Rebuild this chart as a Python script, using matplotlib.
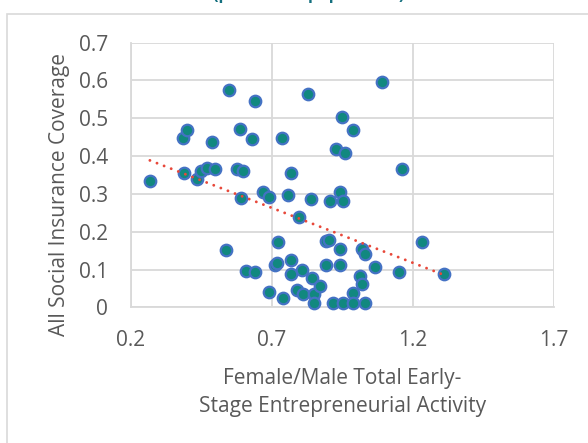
import numpy as np
import matplotlib
matplotlib.use("Agg")
import matplotlib.pyplot as plt
from matplotlib.patches import Rectangle

plt.rcParams['font.family'] = ['Open Sans', 'DejaVu Sans']

tea_ratio = [0.268, 0.387, 0.399, 0.389, 0.436, 0.448, 0.472, 0.489, 0.499, 0.538,
             0.549, 0.576, 0.589, 0.590, 0.599, 0.609, 0.630, 0.640, 0.641, 0.668,
             0.689, 0.690, 0.712, 0.720, 0.723, 0.735, 0.739, 0.759, 0.767, 0.768,
             0.768, 0.789, 0.798, 0.806, 0.812, 0.830, 0.838, 0.842, 0.848, 0.848,
             0.871, 0.893, 0.893, 0.902, 0.907, 0.918, 0.928, 0.940, 0.940, 0.940,
             0.949, 0.952, 0.952, 0.960, 0.989, 0.989, 0.989, 1.011, 1.019, 1.019,
             1.031, 1.031, 1.067, 1.090, 1.150, 1.160, 1.231, 1.311]
coverage = [0.335, 0.449, 0.469, 0.354, 0.339, 0.361, 0.368, 0.438, 0.366, 0.151,
            0.575, 0.366, 0.472, 0.288, 0.361, 0.097, 0.444, 0.546, 0.094, 0.306,
            0.041, 0.293, 0.111, 0.116, 0.173, 0.449, 0.024, 0.296, 0.089, 0.124,
            0.355, 0.046, 0.238, 0.098, 0.035, 0.563, 0.287, 0.078, 0.035, 0.011,
            0.056, 0.175, 0.113, 0.179, 0.282, 0.011, 0.418, 0.306, 0.155, 0.113,
            0.504, 0.282, 0.011, 0.407, 0.469, 0.038, 0.011, 0.082, 0.153, 0.061,
            0.142, 0.012, 0.107, 0.595, 0.094, 0.366, 0.173, 0.089]

x_ticks = [0.2, 0.7, 1.2, 1.7]
y_ticks = [0, 0.1, 0.2, 0.3, 0.4, 0.5, 0.6, 0.7]
x_tick_labels = ['0.2', '0.7', '1.2', '1.7']
y_tick_labels = ['0', '0.1', '0.2', '0.3', '0.4', '0.5', '0.6', '0.7']
title_text = "(percent of population)"
x_label_lines = ["Female/Male Total Early-", "Stage Entrepreneurial Activity"]
y_label = "All Social Insurance Coverage"

W, H = 588, 443
fig = plt.figure(figsize=(W / 100, H / 100), dpi=100)

# chart border
fig.patches.append(Rectangle((7 / W, -0.05), 1.1, 1 - 14 / H + 0.05, transform=fig.transFigure,
                             fill=False, edgecolor='#D9D9D9', linewidth=1.2))

ax = fig.add_axes([130.7 / W, 1 - 307.3 / H, (554 - 130.7) / W, (307.3 - 42.7) / H])
grid_c = '#D9D9D9'
txt_c = '#595959'
ax.set_xlim(0.2, 1.7)
ax.set_ylim(0, 0.7)
ax.set_xticks(x_ticks)
ax.set_xticklabels(x_tick_labels)
ax.set_yticks(y_ticks)
ax.set_yticklabels(y_tick_labels)
ax.grid(True, color=grid_c, linewidth=1.3, zorder=0)
ax.set_axisbelow(True)
for s in ['top', 'right']:
    ax.spines[s].set_visible(False)
for s in ['left', 'bottom']:
    ax.spines[s].set_color(grid_c)
    ax.spines[s].set_linewidth(1.3)
ax.tick_params(length=0, labelsize=15, labelcolor=txt_c)
ax.tick_params(axis='x', pad=16)
ax.tick_params(axis='y', pad=16.5)

ax.plot(tea_ratio, coverage, linestyle='none', marker='o', markersize=8.3,
        markerfacecolor='#11887F', markeredgecolor='#4472C4', markeredgewidth=1.6,
        zorder=3, clip_on=False)

# linear trendline
xs = np.array(tea_ratio)
ys = np.array(coverage)
m, b = np.polyfit(xs, ys, 1)
xl = np.array([xs.min(), xs.max()])
ax.plot(xl, m * xl + b, color='#E8483A', linewidth=2.1, linestyle=(0, (0.01, 2.6)),
        dash_capstyle='round', zorder=4)

# axis titles
fig.text(342.4 / W, 1 - 384 / H, x_label_lines[0], ha='center', va='baseline',
         fontsize=15, color=txt_c)
fig.text(342.4 / W, 1 - 412 / H, x_label_lines[1], ha='center', va='baseline',
         fontsize=15, color=txt_c)
fig.text(60 / W, 1 - 195 / H, y_label, ha='center', va='center', rotation=90,
         fontsize=15, color=txt_c)

fig.text(309 / W, 1 + 0.5 / H, title_text, ha='center', va='baseline', fontsize=12,
         fontweight='bold', color='#15707F')

fig.savefig('out.png', dpi=100)
